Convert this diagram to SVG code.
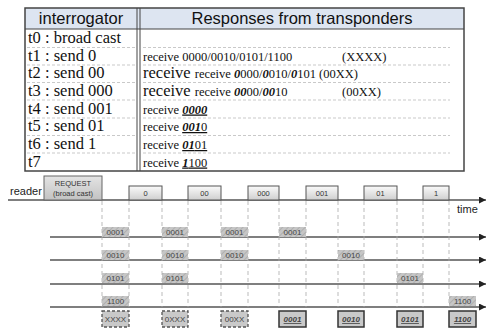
<svg xmlns="http://www.w3.org/2000/svg" width="487" height="330" viewBox="0 0 487 330">
<style>
.bd{fill:none;stroke:#444;stroke-width:1.5}
.rowl{stroke:#bbb;stroke-width:0.8;stroke-dasharray:3,2}
.hd{font-family:"Liberation Sans",Arial,sans-serif;font-size:16.5px;fill:#111}
.lt{font-family:"Liberation Serif","Times New Roman",serif;font-size:16.5px;fill:#111}
.sm{font-family:"Liberation Serif","Times New Roman",serif;font-size:12.5px;fill:#111}
.bi{font-weight:bold;font-style:italic}
.ul{text-decoration:underline}
.tl{stroke:#555;stroke-width:1.5;fill:none}
.vd{stroke:#aaa;stroke-width:0.8;stroke-dasharray:4,3}
.ib{fill:url(#gi);stroke:#555;stroke-width:1}
.it{font-family:"Liberation Sans",Arial,sans-serif;font-size:7.5px;fill:#333;text-anchor:middle}
.hb{fill:url(#hatch)}
.ht{font-family:"Liberation Sans",Arial,sans-serif;font-size:8px;fill:#444;text-anchor:middle}
.xb{fill:#c9c9c9;stroke:#555;stroke-width:1.3;stroke-dasharray:3,2}
.rb{fill:#c9c9c9;stroke:#333;stroke-width:1.5}
.lb{font-family:"Liberation Sans",Arial,sans-serif;font-size:11px;fill:#222}
</style>
<defs>
<linearGradient id="gi" x1="0" y1="0" x2="0" y2="1"><stop offset="0" stop-color="#fafafa"/><stop offset="1" stop-color="#cfcfcf"/></linearGradient>
<linearGradient id="gr" x1="0" y1="0" x2="0" y2="1"><stop offset="0" stop-color="#e4e4e4"/><stop offset="1" stop-color="#c2c2c2"/></linearGradient>
<pattern id="hatch" width="4" height="4" patternUnits="userSpaceOnUse" patternTransform="rotate(45)">
<rect width="4" height="4" fill="#c6c6c6"/><line x1="0" y1="0" x2="0" y2="4" stroke="#a9a9a9" stroke-width="1.6"/>
</pattern>
<marker id="ar" viewBox="0 0 10 10" refX="10" refY="5" markerWidth="9" markerHeight="7" markerUnits="userSpaceOnUse" orient="auto"><path d="M0,0 L10,5 L0,10 z" fill="#222"/></marker>
</defs>

<g id="table">
<rect x="25" y="8" width="439" height="21" fill="#dde5f1"/>
<rect x="25" y="8" width="439" height="163" class="bd"/>
<line x1="25" y1="29" x2="464" y2="29" stroke="#444" stroke-width="1.2"/>
<line x1="137" y1="8" x2="137" y2="171" stroke="#444" stroke-width="1"/>
<line x1="140" y1="8" x2="140" y2="171" stroke="#444" stroke-width="1"/>
<text x="81" y="24" class="hd" text-anchor="middle">interrogator</text>
<text x="302" y="24" class="hd" text-anchor="middle">Responses from transponders</text>
<g class="rowl">
<line x1="27" y1="47.5" x2="136" y2="47.5"/><line x1="143" y1="47.5" x2="450" y2="47.5"/>
<line x1="27" y1="65" x2="136" y2="65"/><line x1="143" y1="65" x2="450" y2="65"/>
<line x1="27" y1="82.5" x2="136" y2="82.5"/><line x1="143" y1="82.5" x2="450" y2="82.5"/>
<line x1="27" y1="100" x2="136" y2="100"/><line x1="143" y1="100" x2="450" y2="100"/>
<line x1="27" y1="118" x2="136" y2="118"/><line x1="143" y1="118" x2="450" y2="118"/>
<line x1="27" y1="135.5" x2="136" y2="135.5"/><line x1="143" y1="135.5" x2="450" y2="135.5"/>
<line x1="27" y1="153" x2="136" y2="153"/><line x1="143" y1="153" x2="450" y2="153"/>
</g>
<text x="28" y="43" class="lt">t0 : broad cast</text>
<text x="28" y="60.5" class="lt">t1 : send 0</text>
<text x="28" y="78" class="lt">t2 : send 00</text>
<text x="28" y="96" class="lt">t3 : send 000</text>
<text x="28" y="113.5" class="lt">t4 : send 001</text>
<text x="28" y="131" class="lt">t5 : send 01</text>
<text x="28" y="149" class="lt">t6 : send 1</text>
<text x="28" y="166.5" class="lt">t7</text>
<text x="143" y="60.5" class="sm">receive 0000/0010/0101/1100</text>
<text x="342" y="60.5" class="sm">(XXXX)</text>
<text x="143" y="78" class="lt">receive <tspan class="sm">receive <tspan class="bi">0</tspan>000/<tspan class="bi">0</tspan>010/<tspan class="bi">0</tspan>101 (00XX)</tspan></text>
<text x="143" y="96" class="lt">receive <tspan class="sm">receive <tspan class="bi">00</tspan>00/<tspan class="bi">00</tspan>10</tspan></text>
<text x="342" y="96" class="sm">(00XX)</text>
<text x="143" y="113.5" class="sm">receive <tspan class="bi ul">0000</tspan></text>
<text x="143" y="131" class="sm">receive <tspan class="ul"><tspan class="bi">001</tspan>0</tspan></text>
<text x="143" y="149" class="sm">receive <tspan class="ul"><tspan class="bi">01</tspan>01</tspan></text>
<text x="143" y="166.5" class="sm">receive <tspan class="ul"><tspan class="bi">1</tspan>100</tspan></text>
</g>

<g id="connectors">
<line x1="8" y1="200" x2="486" y2="200" class="tl" marker-end="url(#ar)"/>
<line x1="50" y1="237" x2="486" y2="237" class="tl" marker-end="url(#ar)"/>
<line x1="50" y1="260" x2="486" y2="260" class="tl" marker-end="url(#ar)"/>
<line x1="50" y1="284" x2="486" y2="284" class="tl" marker-end="url(#ar)"/>
<line x1="50" y1="307" x2="486" y2="307" class="tl" marker-end="url(#ar)"/>
<g class="vd">
<line x1="102" y1="201" x2="102" y2="307"/><line x1="129" y1="201" x2="129" y2="307"/>
<line x1="162" y1="201" x2="162" y2="307"/><line x1="188" y1="201" x2="188" y2="307"/>
<line x1="221" y1="201" x2="221" y2="307"/><line x1="248" y1="201" x2="248" y2="307"/>
<line x1="279" y1="201" x2="279" y2="307"/><line x1="306" y1="201" x2="306" y2="307"/>
<line x1="338" y1="201" x2="338" y2="307"/><line x1="364" y1="201" x2="364" y2="307"/>
<line x1="397" y1="201" x2="397" y2="307"/><line x1="423" y1="201" x2="423" y2="307"/>
<line x1="449" y1="201" x2="449" y2="307"/>
</g>
</g>

<text x="10" y="195" class="lb">reader</text>
<text x="457" y="213" class="lb">time</text>

<g id="request">
<rect x="44" y="176" width="58" height="24" fill="url(#gr)" stroke="#666" stroke-width="1"/>
<text x="73" y="186" class="it" font-size="9.5px" fill="#444">REQUEST</text>
<text x="73" y="196" class="it" font-size="9.5px" fill="#444">(broad cast)</text>
</g>
<g id="q0"><rect x="129" y="186" width="33" height="14" class="ib"/><text x="145.5" y="196" class="it">0</text></g>
<g id="q00"><rect x="188" y="186" width="33" height="14" class="ib"/><text x="204.5" y="196" class="it">00</text></g>
<g id="q000"><rect x="248" y="186" width="31" height="14" class="ib"/><text x="263.5" y="196" class="it">000</text></g>
<g id="q001"><rect x="306" y="186" width="32" height="14" class="ib"/><text x="322" y="196" class="it">001</text></g>
<g id="q01"><rect x="364" y="186" width="33" height="14" class="ib"/><text x="380.5" y="196" class="it">01</text></g>
<g id="q1"><rect x="423" y="186" width="26" height="14" class="ib"/><text x="436" y="196" class="it">1</text></g>

<g id="tag1">
<rect x="102" y="227" width="27" height="10" class="hb"/><text x="115.5" y="235" class="ht">0001</text>
<rect x="162" y="227" width="26" height="10" class="hb"/><text x="175" y="235" class="ht">0001</text>
<rect x="221" y="227" width="27" height="10" class="hb"/><text x="234.5" y="235" class="ht">0001</text>
<rect x="279" y="227" width="27" height="10" class="hb"/><text x="292.5" y="235" class="ht">0001</text>
</g>
<g id="tag2">
<rect x="102" y="250" width="27" height="10" class="hb"/><text x="115.5" y="258" class="ht">0010</text>
<rect x="162" y="250" width="26" height="10" class="hb"/><text x="175" y="258" class="ht">0010</text>
<rect x="221" y="250" width="27" height="10" class="hb"/><text x="234.5" y="258" class="ht">0010</text>
<rect x="338" y="250" width="26" height="10" class="hb"/><text x="351" y="258" class="ht">0010</text>
</g>
<g id="tag3">
<rect x="102" y="273" width="27" height="10" class="hb"/><text x="115.5" y="281" class="ht">0101</text>
<rect x="162" y="273" width="26" height="10" class="hb"/><text x="175" y="281" class="ht">0101</text>
<rect x="397" y="273" width="26" height="10" class="hb"/><text x="410" y="281" class="ht">0101</text>
</g>
<g id="tag4">
<rect x="102" y="296" width="27" height="10" class="hb"/><text x="115.5" y="304" class="ht">1100</text>
<rect x="449" y="296" width="27" height="10" class="hb"/><text x="462.5" y="304" class="ht">1100</text>
</g>

<g id="result">
<rect x="102" y="311" width="27" height="16" class="xb"/><text x="115.5" y="322" class="ht">XXXX</text>
<rect x="162" y="311" width="26" height="16" class="xb"/><text x="175" y="322" class="ht">0XXX</text>
<rect x="221" y="311" width="27" height="16" class="xb"/><text x="234.5" y="322" class="ht">00XX</text>
<rect x="279" y="311" width="27" height="16" class="rb"/><text x="292.5" y="322" class="ht bi ul" fill="#222">0001</text>
<rect x="338" y="311" width="26" height="16" class="rb"/><text x="351" y="322" class="ht bi ul" fill="#222">0010</text>
<rect x="397" y="311" width="26" height="16" class="rb"/><text x="410" y="322" class="ht bi ul" fill="#222">0101</text>
<rect x="449" y="311" width="27" height="16" class="rb"/><text x="462.5" y="322" class="ht bi ul" fill="#222">1100</text>
</g>
</svg>
